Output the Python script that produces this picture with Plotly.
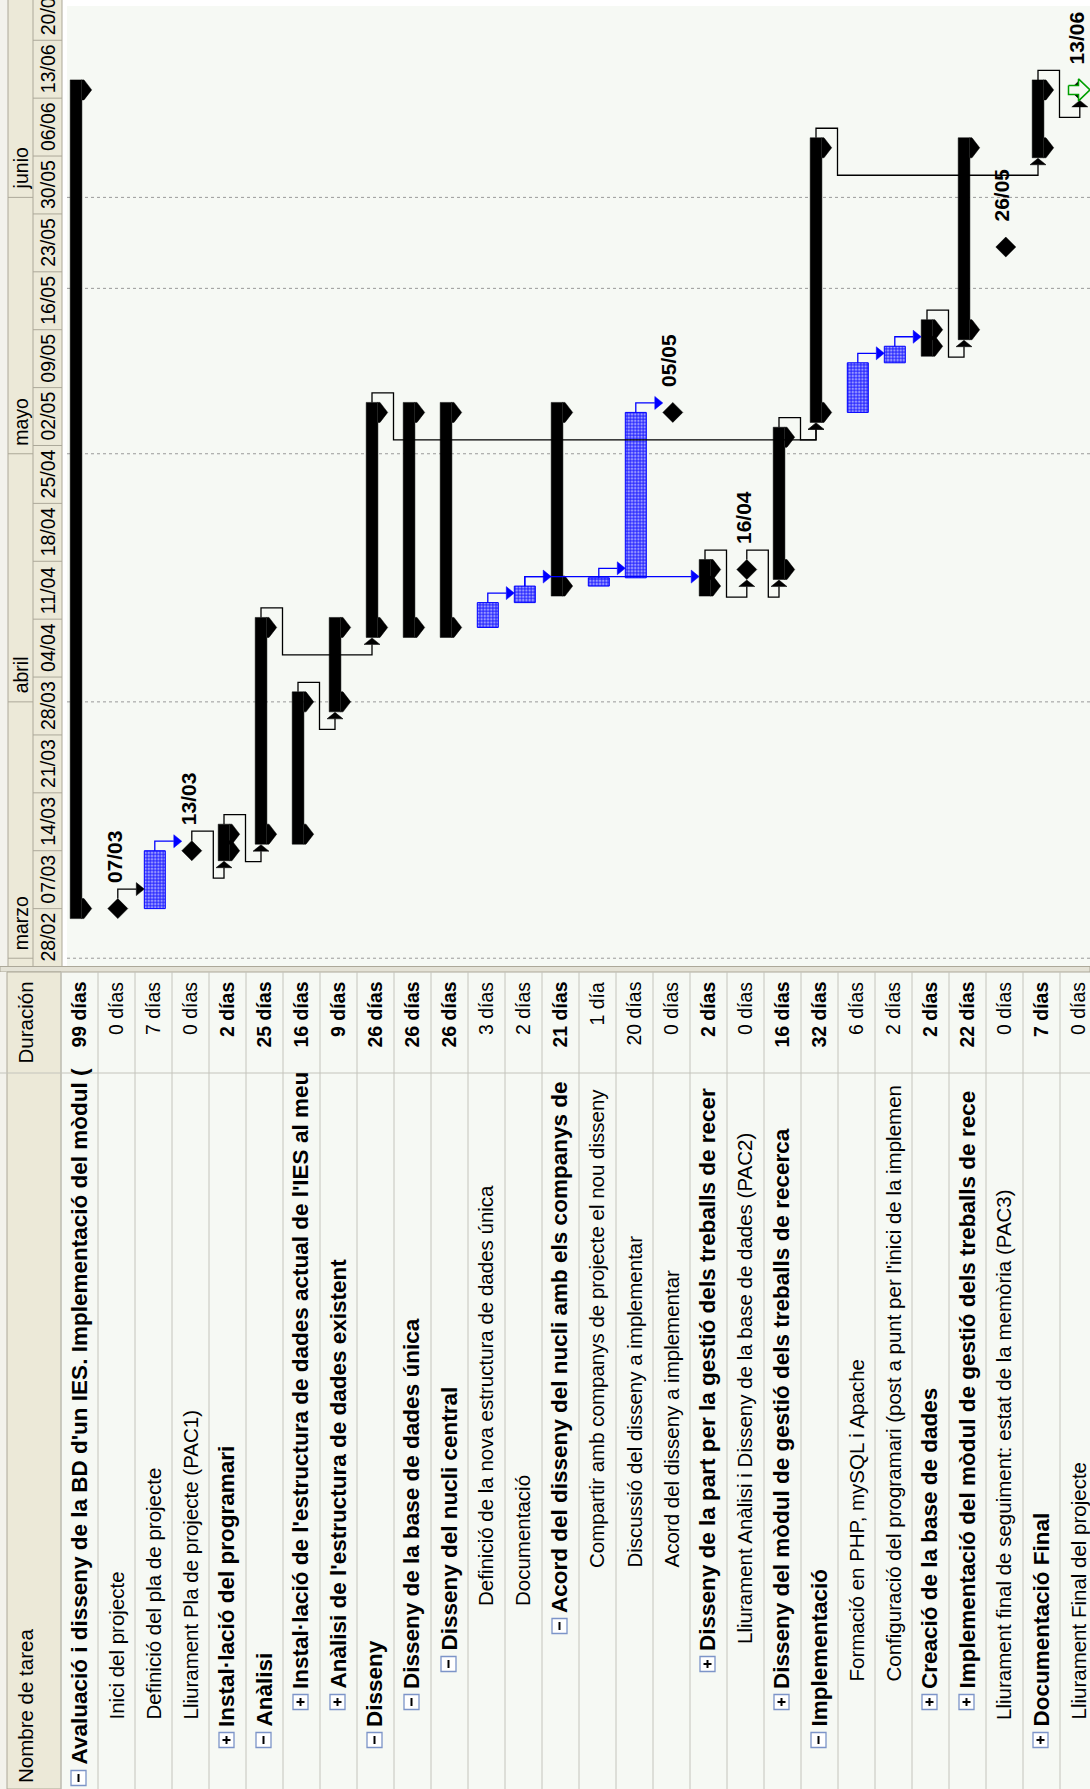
import plotly.graph_objects as go
from datetime import datetime, timedelta

# ---------------- data ----------------
TASKS = [
    "Avaluació i disseny de la BD d'un IES. Implementació del mòdul (",
    "Inici del projecte",
    "Definició del pla de projecte",
    "Lliurament Pla de projecte (PAC1)",
    "Instal·lació del programari",
    "Anàlisi",
    "Instal·lació de l'estructura de dades actual de l'IES al meu",
    "Anàlisi de l'estructura de dades existent",
    "Disseny",
    "Disseny de la base de dades única",
    "Disseny del nucli central",
    "Definició de la nova estructura de dades única",
    "Documentació",
    "Acord del disseny del nucli amb els companys de",
    "Compartir amb companys de projecte el nou disseny",
    "Discussió del disseny a implementar",
    "Acord del disseny a implementar",
    "Disseny de la part per la gestió dels treballs de recer",
    "Lliurament Anàlisi i Disseny de la base de dades (PAC2)",
    "Disseny del mòdul de gestió dels treballs de recerca",
    "Implementació",
    "Formació en PHP, mySQL i Apache",
    "Configuració del programari (post a punt per l'inici de la implemen",
    "Creació de la base de dades",
    "Implementació del mòdul de gestió dels treballs de rece",
    "Lliurament final de seguiment: estat de la memòria (PAC3)",
    "Documentació Final",
    "Lliurament Final del projecte",
]
DURATIONS = ["99 días", "0 días", "7 días", "0 días", "2 días", "25 días", "16 días", "9 días",
             "26 días", "26 días", "26 días", "3 días", "2 días", "21 días", "1 día", "20 días",
             "0 días", "2 días", "0 días", "16 días", "32 días", "6 días", "2 días", "2 días",
             "22 días", "0 días", "7 días", "0 días"]
LEVELS = [1, 2, 2, 2, 2, 2, 3, 3, 2, 3, 4, 5, 5, 5, 6, 6, 6, 4, 4, 3, 2, 3, 3, 3, 3, 2, 2, 2]
OUTLINE = ["-", "", "", "", "+", "-", "+", "+", "-", "-", "-", "", "", "-", "", "", "",
           "+", "", "+", "-", "", "", "+", "+", "", "+", ""]
STARTS = ["2011-03-07", "2011-03-07", "2011-03-07", "2011-03-14", "2011-03-14", "2011-03-16",
          "2011-03-16", "2011-04-01", "2011-04-10", "2011-04-10", "2011-04-10", "2011-04-10",
          "2011-04-13", "2011-04-15", "2011-04-15", "2011-04-16", "2011-05-06", "2011-04-15",
          "2011-04-17", "2011-04-17", "2011-05-06", "2011-05-06", "2011-05-12", "2011-05-14",
          "2011-05-16", "2011-05-26", "2011-06-07", "2011-06-14"]
FINISHES = ["2011-06-14", "2011-03-07", "2011-03-14", "2011-03-14", "2011-03-16", "2011-04-10",
            "2011-04-01", "2011-04-10", "2011-05-06", "2011-05-06", "2011-05-06", "2011-04-13",
            "2011-04-15", "2011-05-06", "2011-04-16", "2011-05-06", "2011-05-06", "2011-04-17",
            "2011-04-17", "2011-05-03", "2011-06-07", "2011-05-12", "2011-05-14", "2011-05-16",
            "2011-06-07", "2011-05-26", "2011-06-14", "2011-06-14"]
MILESTONE_LABELS = ["", "07/03", "", "13/03", "", "", "", "", "", "", "", "", "", "", "", "",
                    "05/05", "", "16/04", "", "", "", "", "", "", "26/05", "", "13/06"]
DEADLINE_ROW = 28
DEADLINE_DATE = "2011-06-14"
# (predecessor row, successor row, routing)
LINKS = [(2, 3, "A"), (3, 4, "A"), (4, 5, "B"), (5, 6, "B"), (7, 8, "B"), (6, 9, "B"),
         (9, 21, "B"), (20, 21, "B"), (12, 13, "A"), (13, 14, "A"), (13, 18, "A"),
         (15, 16, "A"), (16, 17, "A"), (18, 19, "B"), (19, 20, "B"), (22, 23, "A"),
         (23, 24, "A"), (24, 25, "B"), (21, 27, "B"), (27, 28, "B")]

WEEK_LABELS = ["28/02", "07/03", "14/03", "21/03", "28/03", "04/04", "11/04", "18/04", "25/04",
               "02/05", "09/05", "16/05", "23/05", "30/05", "06/06", "13/06", "20/06"]
WEEK_DATES = ["2011-02-28", "2011-03-07", "2011-03-14", "2011-03-21", "2011-03-28", "2011-04-04",
              "2011-04-11", "2011-04-18", "2011-04-25", "2011-05-02", "2011-05-09", "2011-05-16",
              "2011-05-23", "2011-05-30", "2011-06-06", "2011-06-13", "2011-06-20"]
MONTH_LABELS = ["marzo", "abril", "mayo", "junio"]
MONTH_DATES = ["2011-03-01", "2011-04-01", "2011-05-01", "2011-06-01"]
GRID_DATES = ["2011-03-01", "2011-04-01", "2011-05-01", "2011-05-21", "2011-06-01"]

# ---------------- geometry / style ----------------
W, H = 1090, 1789
ROW_PX = 37.0
ROW1_PX = 79.5
PX_DAY = 8.27
GANTT_BOTTOM = 966.5
TABLE_TOP = 972.0
T0 = datetime(2011, 2, 28)
FONT = "Liberation Sans, Arial, sans-serif"
BLACK = "#000000"
BLUE = "#0000FF"
BG = "#F6F9F4"
BEIGE = "#ECE9D8"
GRIDC = "#C4C4BC"
FS_REG = 20.5
FS_BOLD = 22.5
FS_DUR = 19.5
FS_LAB = 21


def dt(d):
    return datetime.strptime(d, "%Y-%m-%d") if isinstance(d, str) else d


def ty(d, dpx=0.0):
    return dt(d) + timedelta(days=dpx / PX_DAY)


def ys(d, dpx=0.0):
    return ty(d, dpx).strftime("%Y-%m-%d %H:%M:%S")


def rx(k, dpx=0.0):
    return k + dpx / ROW_PX


def PX(px):
    return px / W


def PY(py):
    return 1 - py / H


n = len(TASKS)
kind = []
for i in range(n):
    if OUTLINE[i]:
        kind.append("S")
    elif STARTS[i] == FINISHES[i]:
        kind.append("M")
    else:
        kind.append("T")

fig = go.Figure()
shapes = []
annots = []

# ---------- backgrounds ----------
shapes.append(dict(type="rect", xref="paper", yref="paper", x0=0, x1=1, y0=0, y1=1,
                   fillcolor=BG, line_width=0, layer="below"))
shapes.append(dict(type="rect", xref="paper", yref="paper", x0=PX(0), x1=PX(8), y0=PY(GANTT_BOTTOM), y1=1,
                   fillcolor="#F3F2EC", line_width=0, layer="below"))
shapes.append(dict(type="rect", xref="paper", yref="paper", x0=PX(8), x1=PX(62), y0=PY(GANTT_BOTTOM), y1=1,
                   fillcolor=BEIGE, line_width=0, layer="below"))
shapes.append(dict(type="rect", xref="paper", yref="paper", x0=PX(62), x1=PX(67), y0=PY(GANTT_BOTTOM), y1=1,
                   fillcolor="#FFFFFF", line_width=0, layer="below"))
shapes.append(dict(type="rect", xref="paper", yref="paper", x0=PX(62), x1=1, y0=PY(6), y1=1,
                   fillcolor="#FFFFFF", line_width=0, layer="below"))
for xx in (8, 33, 62):
    shapes.append(dict(type="line", xref="paper", yref="paper", x0=PX(xx), x1=PX(xx), y0=PY(GANTT_BOTTOM), y1=1,
                       line=dict(color="#ACA899", width=1), layer="below"))
shapes.append(dict(type="rect", xref="paper", yref="paper", x0=0, x1=1, y0=PY(TABLE_TOP), y1=PY(GANTT_BOTTOM),
                   fillcolor="#E4E2D6", line=dict(color="#ACA899", width=1), layer="below"))
shapes.append(dict(type="rect", xref="paper", yref="paper", x0=PX(0), x1=PX(7), y0=0, y1=PY(TABLE_TOP),
                   fillcolor="#F3F2EC", line_width=0, layer="below"))
shapes.append(dict(type="rect", xref="paper", yref="paper", x0=PX(7), x1=PX(61), y0=0, y1=PY(TABLE_TOP),
                   fillcolor=BEIGE, line=dict(color="#ACA899", width=1), layer="below"))

# ---------- week / month tiers ----------
for d in WEEK_DATES:
    shapes.append(dict(type="line", xref="paper", yref="y", x0=PX(33), x1=PX(62), y0=ys(d), y1=ys(d),
                       line=dict(color="#ACA899", width=1), layer="below"))
for lab, d in zip(WEEK_LABELS, WEEK_DATES):
    annots.append(dict(text=lab, xref="paper", yref="y", x=PX(48), y=ys(d, 3.5 * PX_DAY),
                       textangle=-90, showarrow=False, xanchor="center", yanchor="middle",
                       font=dict(family=FONT, size=19.5, color="#000000")))
for d in MONTH_DATES:
    shapes.append(dict(type="line", xref="paper", yref="y", x0=PX(8), x1=PX(33), y0=ys(d), y1=ys(d),
                       line=dict(color="#ACA899", width=1), layer="below"))
for lab, d in zip(MONTH_LABELS, MONTH_DATES):
    annots.append(dict(text=lab, xref="paper", yref="y", x=PX(21), y=ys(d, 6),
                       textangle=-90, showarrow=False, xanchor="center", yanchor="bottom",
                       font=dict(family=FONT, size=19.5, color="#000000")))

# ---------- dotted gridlines ----------
for d in GRID_DATES:
    shapes.append(dict(type="line", xref="paper", yref="y", x0=PX(67), x1=1, y0=ys(d), y1=ys(d),
                       line=dict(color="#9A9A9A", width=1, dash="dot"), layer="below"))

# ---------- bars ----------
sum_x, sum_y = [], []
task_x, task_y = [], []
ms_x, ms_y = [], []


def poly(xs, ysl, pts):
    for (a, b) in pts:
        xs.append(a)
        ysl.append(b)
    xs.append(pts[0][0])
    ysl.append(pts[0][1])
    xs.append(None)
    ysl.append(None)


for i in range(n):
    k = i + 1
    s, f = STARTS[i], FINISHES[i]
    if kind[i] == "S":
        poly(sum_x, sum_y, [(rx(k, -9.3), ty(s, -10)), (rx(k, 2.4), ty(s, -10)),
                            (rx(k, 2.4), ty(f, 10)), (rx(k, -9.3), ty(f, 10))])
        for t in (s, f):
            poly(sum_x, sum_y, [(rx(k, 2.0), ty(t, 10)), (rx(k, 4.5), ty(t, 10)), (rx(k, 12.2), ty(t, 0)),
                                (rx(k, 4.5), ty(t, -10)), (rx(k, 2.0), ty(t, -10))])
    elif kind[i] == "T":
        poly(task_x, task_y, [(rx(k, -9.2), ty(s)), (rx(k, 11.8), ty(s)),
                              (rx(k, 11.8), ty(f)), (rx(k, -9.2), ty(f))])
    else:
        c = 1.3
        poly(ms_x, ms_y, [(rx(k, c), ty(s, 10)), (rx(k, c + 10), ty(s)),
                          (rx(k, c), ty(s, -10)), (rx(k, c - 10), ty(s))])

# ---------- links ----------
lk = {BLACK: ([], []), BLUE: ([], [])}
ah = {BLACK: ([], []), BLUE: ([], [])}


def top_point(i):
    if kind[i] == "S":
        return -3.5, FINISHES[i], 10
    if kind[i] == "T":
        return 1.3, FINISHES[i], 0
    return 1.3, FINISHES[i], 10


for (p, q, route) in LINKS:
    ip, iq = p - 1, q - 1
    col = BLUE if kind[ip] == "T" else BLACK
    xs, ysl = lk[col]
    axs, ays = ah[col]
    dxp, fdate, top = top_point(ip)
    yup = top + 9.5
    sdate = STARTS[iq]
    if route == "A":
        if kind[iq] == "T":
            tipdx = -9.2
        elif kind[iq] == "M":
            tipdx = 1.3 - 10
        else:
            tipdx = -9.3
        pts = [(rx(p, dxp), ty(fdate, top)), (rx(p, dxp), ty(fdate, yup)), (rx(q, tipdx - 8), ty(fdate, yup))]
        for a, b in pts:
            xs.append(a)
            ysl.append(b)
        xs.append(None)
        ysl.append(None)
        poly(axs, ays, [(rx(q, tipdx - 8), ty(fdate, yup + 6.5)), (rx(q, tipdx), ty(fdate, yup)),
                        (rx(q, tipdx - 8), ty(fdate, yup - 6.5))])
    else:
        cxq = -3.5 if kind[iq] == "S" else 1.3
        pts = [(rx(p, dxp), ty(fdate, top)), (rx(p, dxp), ty(fdate, yup)),
               (rx(p, dxp + 21.5), ty(fdate, yup)), (rx(p, dxp + 21.5), ty(sdate, -27.5)),
               (rx(q, cxq), ty(sdate, -27.5)), (rx(q, cxq), ty(sdate, -17))]
        for a, b in pts:
            xs.append(a)
            ysl.append(b)
        xs.append(None)
        ysl.append(None)
        poly(axs, ays, [(rx(q, cxq - 8), ty(sdate, -17)), (rx(q, cxq), ty(sdate, -10.5)),
                        (rx(q, cxq + 8), ty(sdate, -17))])

fig.add_trace(go.Scatter(x=task_x, y=task_y, mode="lines", fill="toself",
                         line=dict(color=BLUE, width=1), fillcolor="#3838FF",
                         fillpattern=dict(shape=".", fgcolor="#FFFFFF", bgcolor="#3030FF", size=3.2, solidity=0.45),
                         hoverinfo="skip", showlegend=False))
fig.add_trace(go.Scatter(x=sum_x, y=sum_y, mode="lines", fill="toself", line=dict(color=BLACK, width=0.5),
                         fillcolor=BLACK, hoverinfo="skip", showlegend=False))
fig.add_trace(go.Scatter(x=ms_x, y=ms_y, mode="lines", fill="toself", line=dict(color=BLACK, width=0.5),
                         fillcolor=BLACK, hoverinfo="skip", showlegend=False))
for col in (BLACK, BLUE):
    fig.add_trace(go.Scatter(x=lk[col][0], y=lk[col][1], mode="lines", line=dict(color=col, width=1.3),
                             hoverinfo="skip", showlegend=False))
    fig.add_trace(go.Scatter(x=ah[col][0], y=ah[col][1], mode="lines", fill="toself",
                             line=dict(color=col, width=0.5), fillcolor=col, hoverinfo="skip", showlegend=False))

# deadline marker (green hollow arrow)
kd = DEADLINE_ROW
dx_, dy_ = [], []
poly(dx_, dy_, [(rx(kd, -10), ty(DEADLINE_DATE, 4.5)), (rx(kd, 0), ty(DEADLINE_DATE, 4.5)),
                (rx(kd, 0), ty(DEADLINE_DATE, 11)), (rx(kd, 11.5), ty(DEADLINE_DATE, 0)),
                (rx(kd, 0), ty(DEADLINE_DATE, -11)), (rx(kd, 0), ty(DEADLINE_DATE, -4.5)),
                (rx(kd, -10), ty(DEADLINE_DATE, -4.5))])
fig.add_trace(go.Scatter(x=dx_, y=dy_, mode="lines", fill="toself", line=dict(color="#00A000", width=1.5),
                         fillcolor="#F6F9F4", hoverinfo="skip", showlegend=False))

# milestone date labels
for i in range(n):
    if MILESTONE_LABELS[i]:
        annots.append(dict(text="<b>%s</b>" % MILESTONE_LABELS[i], xref="x", yref="y",
                           x=rx(i + 1, -2.5), y=ys(STARTS[i], 23), textangle=-90, showarrow=False,
                           xanchor="center", yanchor="bottom",
                           font=dict(family=FONT, size=FS_LAB, color="#000000")))

# ---------- table ----------
COL_SPLIT = 1073
for k in range(n + 1):
    xpx = ROW1_PX - ROW_PX / 2 + ROW_PX * k
    shapes.append(dict(type="line", xref="paper", yref="paper", x0=PX(xpx), x1=PX(xpx),
                       y0=0, y1=PY(TABLE_TOP), line=dict(color=GRIDC, width=1), layer="below"))
shapes.append(dict(type="line", xref="paper", yref="paper", x0=0, x1=1, y0=PY(COL_SPLIT), y1=PY(COL_SPLIT),
                   line=dict(color=GRIDC, width=1), layer="below"))
annots.append(dict(text="Duración", xref="paper", yref="paper", x=PX(25), y=PY((TABLE_TOP + COL_SPLIT) / 2),
                   textangle=-90, showarrow=False, xanchor="center", yanchor="middle",
                   font=dict(family=FONT, size=FS_REG, color="#000000")))
annots.append(dict(text="Nombre de tarea", xref="paper", yref="paper", x=PX(25), y=PY(1785),
                   textangle=-90, showarrow=False, xanchor="center", yanchor="bottom",
                   font=dict(family=FONT, size=FS_REG, color="#000000")))

for i in range(n):
    k = i + 1
    bold = kind[i] == "S"
    box_c = 1778 - 38 * (LEVELS[i] - 1)
    if OUTLINE[i]:
        start_px = box_c - 11
        bx0, bx1 = rx(k, -8.5), rx(k, 6.5)
        shapes.append(dict(type="rect", xref="x", yref="paper", x0=bx0, x1=bx1,
                           y0=PY(box_c + 7.5), y1=PY(box_c - 7.5), fillcolor="#FFFFFF",
                           line=dict(color="#7C94C8", width=1.3)))
        shapes.append(dict(type="line", xref="x", yref="paper", x0=rx(k, -1), x1=rx(k, -1),
                           y0=PY(box_c + 4), y1=PY(box_c - 4), line=dict(color="#000000", width=2)))
        if OUTLINE[i] == "+":
            shapes.append(dict(type="line", xref="x", yref="paper", x0=rx(k, -5), x1=rx(k, 3),
                               y0=PY(box_c), y1=PY(box_c), line=dict(color="#000000", width=2)))
    else:
        start_px = box_c - 18
    txt = TASKS[i]
    dur = DURATIONS[i]
    if bold:
        txt = "<b>%s</b>" % txt
        dur = "<b>%s</b>" % dur
    annots.append(dict(text=txt, xref="x", yref="paper", x=rx(k, -1), y=PY(start_px),
                       textangle=-90, showarrow=False, xanchor="center", yanchor="bottom",
                       font=dict(family=FONT, size=FS_BOLD if bold else FS_REG, color="#000000")))
    annots.append(dict(text=dur, xref="x", yref="paper", x=rx(k, -1), y=PY(980),
                       textangle=-90, showarrow=False, xanchor="center", yanchor="top",
                       font=dict(family=FONT, size=FS_DUR, color="#000000")))

x_lo = (0 - ROW1_PX) / ROW_PX + 1
x_hi = (W - ROW1_PX) / ROW_PX + 1
fig.update_layout(
    width=W, height=H, margin=dict(l=0, r=0, t=0, b=0), autosize=False,
    paper_bgcolor=BG, plot_bgcolor="rgba(0,0,0,0)", showlegend=False,
    xaxis=dict(range=[x_lo, x_hi], visible=False, fixedrange=True),
    yaxis=dict(type="date", domain=[1 - GANTT_BOTTOM / H, 1],
               range=[ys(T0), ys(T0, GANTT_BOTTOM)], visible=False, fixedrange=True),
    shapes=shapes, annotations=annots,
)
fig.write_html("out.html", config={"displayModeBar": False})
